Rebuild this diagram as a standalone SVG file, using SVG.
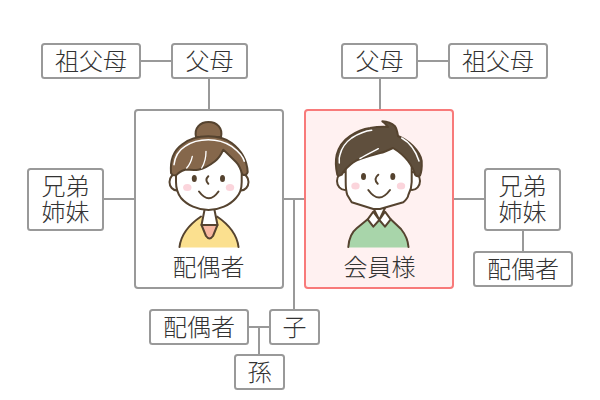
<svg xmlns="http://www.w3.org/2000/svg" width="600" height="400" viewBox="0 0 600 400">
<style>
.b{fill:#fff;stroke:#999;stroke-width:2}
.t{font-family:"Noto Sans CJK JP","Noto Sans CJK SC",sans-serif;font-size:24px;font-weight:300;fill:#333;text-anchor:middle}
.l{stroke:#999;stroke-width:2;fill:none}
.o{stroke:#55432f;stroke-width:2;stroke-linejoin:round;stroke-linecap:round}
.n{fill:none}
.w{fill:#fff}
.c{fill:#fbd5dc}
.e{fill:#55432f}
.s{fill:none;stroke:#fff;stroke-width:1.5;stroke-linecap:round}
</style>
<g id="connectors" class="l">
<path d="M141 61H172M209 78V110M380 78V110M417 61H449M104 199H135M283 199H305M294 199V310M453 199H485M523 230V252M248 327H270M259 327V355"/>
</g>
<g id="grandparents-left"><rect class="b" x="42" y="44" width="98" height="34" rx="2.5"/><text class="t" x="91" y="70">祖父母</text></g>
<g id="parents-left"><rect class="b" x="172" y="44" width="75" height="34" rx="2.5"/><text class="t" x="209.500" y="70">父母</text></g>
<g id="parents-right"><rect class="b" x="342" y="44" width="75" height="34" rx="2.5"/><text class="t" x="379.500" y="70">父母</text></g>
<g id="grandparents-right"><rect class="b" x="449" y="44" width="98" height="34" rx="2.5"/><text class="t" x="498" y="70">祖父母</text></g>
<g id="siblings-left"><rect class="b" x="28" y="169" width="75" height="61" rx="2.5"/><text class="t"><tspan x="65.500" y="195">兄弟</tspan><tspan x="65.500" y="221">姉妹</tspan></text></g>
<g id="siblings-right"><rect class="b" x="485" y="169" width="75" height="61" rx="2.5"/><text class="t"><tspan x="522.500" y="195">兄弟</tspan><tspan x="522.500" y="221">姉妹</tspan></text></g>
<g id="spouse-sibling"><rect class="b" x="474" y="252" width="98" height="34" rx="2.5"/><text class="t" x="523" y="278">配偶者</text></g>
<g id="spouse-child"><rect class="b" x="150" y="310" width="98" height="34" rx="2.5"/><text class="t" x="199" y="336">配偶者</text></g>
<g id="child"><rect class="b" x="270" y="310" width="49" height="34" rx="2.5"/><text class="t" x="294.500" y="336">子</text></g>
<g id="grandchild"><rect class="b" x="235" y="355" width="49" height="34" rx="2.5"/><text class="t" x="259.500" y="381">孫</text></g>
<g id="spouse">
<rect class="b" x="135" y="110" width="148" height="178" rx="3"/>
<path fill="#fbe08f" d="M179.500 247.500C181 234 190 224 201 216.500H217C228 224 237 234 238.500 247.500Z"/>
<path class="o n" d="M179.500 247C181 234 190 224 201 216.500M217 216.500C228 224 237 234 238.500 247"/>
<path class="w" d="M204 209H215L218 226H201Z"/>
<path class="o n" d="M204.500 210L201.500 225M214.500 210L217.500 225"/>
<path d="M201.500 225H217.500L213 236Q209.500 241 206 236Z" fill="#f7b7a0" stroke="#55432f" stroke-width="2" stroke-linejoin="round"/>
<ellipse class="o w" cx="177" cy="182" rx="7.500" ry="8.500"/>
<ellipse class="o w" cx="241" cy="182" rx="7.500" ry="8.500"/>
<path class="o w" d="M176 165V182C176 189 178 194 181 198C187 205 198 210 208.500 210C219 210 230 205 236 198C240 194 241.700 189 241.700 182V165C240 152 225 142 208.500 142C192 142 178 152 176 165Z"/>
<path class="o" fill="#85674b" d="M196 137C194 128 200 122 208.500 122C217 122 223 128 221 137Z"/>
<path class="o" fill="#85674b" d="M176.500 175C173 176 172 175 171 173C170 160 173 151 181.700 144.700C190 138 199 136.300 208.300 136.300C218 136.300 225 138 231.700 143C241 150 247 160 247.700 172C247 175 245 175.500 242.300 174.500C241 170 239 165 236 162C231 157 227 153 223.300 149.700C221 155 218 159 215 161.300C209 166 203 169 198.300 169.700C193 170.500 189 169.500 185 169.700C181 171 178 173 176.500 175Z"/>
<path class="s" d="M174 164.700C175 156 179 150 185 146.300C192 141.500 200 139.700 208.300 139.700C217 139.700 225 142 231.700 146.300C238 151 243 156 244.300 161.300"/>
<path d="M192.300 156.300Q191 163 186.700 168M206 151.300Q206 161 201.700 168" fill="none" stroke="#fff" stroke-width="1.300" stroke-linecap="round"/>
<ellipse class="e" cx="194.300" cy="178.500" rx="2.500" ry="3.500"/>
<ellipse class="e" cx="222.500" cy="178.500" rx="2.500" ry="3.500"/>
<path class="o n" d="M208.300 176.300Q204.500 180 208.300 183.700"/>
<ellipse class="c" cx="187.300" cy="187.500" rx="4.200" ry="3.500"/>
<ellipse class="c" cx="230" cy="187.500" rx="4.200" ry="3.500"/>
<path class="o n" d="M199 191.500Q209 205 218.500 191.500"/>
<text class="t" x="208.500" y="276">配偶者</text>
</g>
<g id="member">
<rect x="305" y="110" width="148" height="178" rx="3" fill="#fff1f1" stroke="#f87a7a" stroke-width="2"/>
<path fill="#a8d5aa" d="M348 247.500C349 238 352 232 356.700 228.300L367.700 219.300H390.700L401 229C405 234 408 240 408.500 247.500Z"/>
<path class="o n" d="M348.300 247C349 238 352 232 356.700 228.300L367.700 219.300M390.700 219.300L401 229C405 234 408 240 408.500 247"/>
<path class="o w" d="M373.300 208L379.300 220L385 208Z"/>
<path class="o w" d="M373.300 211.700L367.700 219.300L373.300 226.700L379.300 220Z"/>
<path class="o w" d="M385 211.700L390.700 219.300L385 226.700L379.300 220Z"/>
<ellipse class="o w" cx="345" cy="181" rx="8" ry="9"/>
<ellipse class="o w" cx="412" cy="181" rx="8" ry="9"/>
<path class="o w" d="M345.700 165V182C345.700 187 346 191 347.300 195L351.700 202.300L373.300 209H380L403.300 202.300C406 200 408 198 408.300 195C411 190 411.700 186 411.700 182V165C411 150 398 140 378 140C358 140 346 150 345.700 165Z"/>
<path class="o" fill="#5f4f3d" d="M341.700 174.700C339.500 176 338 176 337.300 174.700C335.500 167 335.500 160 336.700 154.700C339 146 344 140 350 136C356 132 363 129 370 128C376 127 382 126.500 388 127C386 124 384.500 122.500 382.300 121.300C388 121.500 392 123.500 395 126.300C397 129 397.500 133 398 136C405 139 409 142 413 146C418 151 421 156 421.700 161C422 167 421.500 172 420 175.500C418 176.500 416 176 415 174.700C414 169 411 165 408 161C404 156 398 151 393 148C389 150 385 152 380 153C373 155 365 157 358.300 159.700C353 162 350 165 346.700 168C344.500 170 343 172 341.700 174.700Z"/>
<path class="s" d="M339.300 163C339 160 339 157 340 154.700C342 147 346 142 351.700 138C358 134 365 131 371.700 130.300"/>
<path class="s" d="M401.700 138C409 142 415 149 419 161"/>
<path class="s" d="M360 158.500C366 155 372 152 378.300 148.700"/>
<ellipse class="e" cx="363.500" cy="176.500" rx="2.500" ry="3.500"/>
<ellipse class="e" cx="392.800" cy="176.500" rx="2.500" ry="3.500"/>
<path class="o n" d="M378.300 174.700Q373 179 377.700 183.700"/>
<ellipse class="c" cx="355.500" cy="186" rx="4.200" ry="3.500"/>
<ellipse class="c" cx="401" cy="186" rx="4.200" ry="3.500"/>
<path class="o n" d="M368.300 190Q379 205 390 190"/>
<text class="t" x="379.500" y="276">会員様</text>
</g>
</svg>
